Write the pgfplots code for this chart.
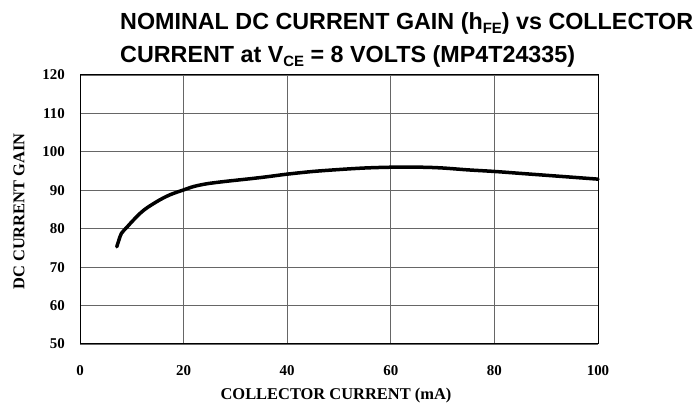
\documentclass[border=0pt]{standalone}
\usepackage{pgfplots}
\pgfplotsset{compat=1.18}
\usepackage{fontspec}
\setmainfont{Liberation Serif}
\newfontfamily\hel{Liberation Sans}
\begin{document}
\begin{tikzpicture}
\begin{axis}[
  name=ax,
  scale only axis,
  width=518bp, height=269bp,
  xmin=0, xmax=100, ymin=50, ymax=120,
  xtick={0,20,...,100}, ytick={50,60,...,120},
  grid=major,
  major grid style={black!60, line width=0.9pt},
  axis line style={black, line width=1pt},
  tick style={draw=none},
  /pgf/number format/assume math mode=true,
  ticklabel style={font=\fontsize{15}{17}\selectfont\bfseries, inner sep=0pt},
  xticklabel style={yshift=-21bp},
  yticklabel style={xshift=-15bp},
  xlabel={COLLECTOR CURRENT (mA)},
  ylabel={DC CURRENT GAIN},
  label style={font=\fontsize{16.5}{19}\selectfont\bfseries},
  xlabel style={at={(rel axis cs:0.4942,-0.2082)}, anchor=base},
  ylabel style={at={(rel axis cs:-0.1178,0.4926)}, anchor=center},
  clip=false,
]
\addplot[black, line width=3.5bp, smooth, line cap=round] coordinates {
(7.1,75.3)(7.5,77)(8,78.8)(9,80.3)(10,81.8)(11.6,84.0)(13,85.5)(15.4,87.5)(17.5,88.9)(20,90.1)(22,91)(24.5,91.7)(28,92.3)(32.8,93)(36,93.5)(40,94.2)(45,94.9)(50,95.4)(55,95.8)(60,96)(66,96)(70,95.8)(75,95.3)(80,94.9)(85,94.4)(90,93.9)(95,93.4)(100,92.9)
};
\coordinate (bl) at (rel axis cs:0,0);
\coordinate (tr) at (rel axis cs:1,1);
\end{axis}
\node[anchor=base west, inner sep=0pt, font=\hel\bfseries\fontsize{23.4}{26}\selectfont] at ([shift={(40bp,314bp)}]bl) {NOMINAL DC CURRENT GAIN (h{\fontsize{15}{17}\selectfont\raisebox{-3.5bp}{FE}}) vs COLLECTOR};
\node[anchor=base west, inner sep=0pt, font=\hel\bfseries\fontsize{23.4}{26}\selectfont] at ([shift={(40bp,281bp)}]bl) {CURRENT at V{\fontsize{15}{17}\selectfont\raisebox{-3.5bp}{CE}} = 8 VOLTS (MP4T24335)};
\pgfresetboundingbox
\path ([shift={(-80bp,-64bp)}]bl) rectangle ([shift={(97bp,75bp)}]tr);
\end{tikzpicture}
\end{document}
